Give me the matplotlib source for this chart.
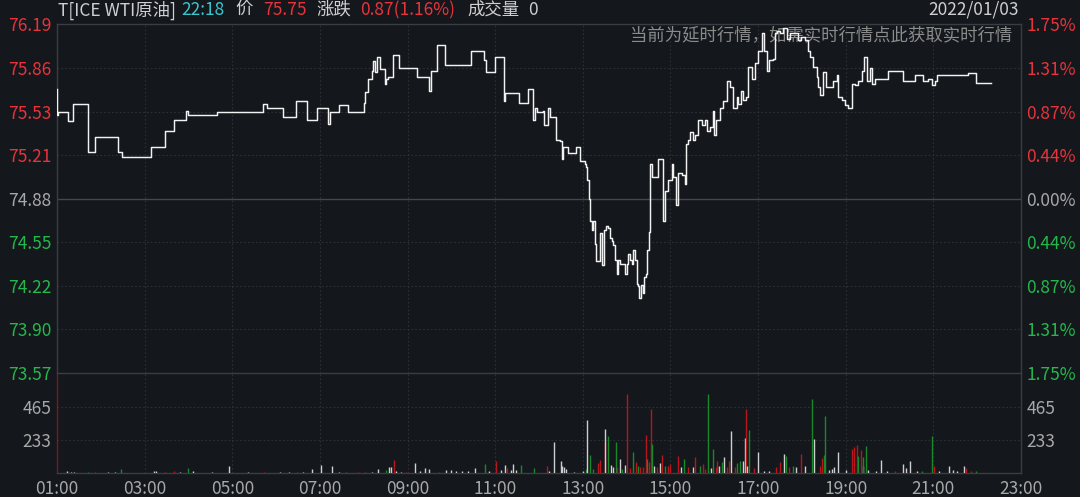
import matplotlib.pyplot as plt
import numpy as np

plt.rcParams['font.family'] = ['Noto Sans CJK SC', 'DejaVu Sans']

BG = '#14171c'
FRAME = '#3a3d43'
GRID = '#2d3036'
RED = '#e8333b'
GREEN = '#24b84c'
GRAY = '#a8a8a8'
LIGHT = '#cfcfcf'
CYAN = '#39c6cf'

# price axis (prev close 74.88)
price_levels = [76.19, 75.86, 75.53, 75.21, 74.88, 74.55, 74.22, 73.90, 73.57]
pct_labels = ['1.75%', '1.31%', '0.87%', '0.44%', '0.00%', '0.44%', '0.87%', '1.31%', '1.75%']
prev_close = 74.88
vol_levels = [233, 465]
time_labels = ['01:00', '03:00', '05:00', '07:00', '09:00', '11:00',
               '13:00', '15:00', '17:00', '19:00', '21:00', '23:00']

# price line, hours since 00:00 / price (step changes)
price_time = [1.00, 1.01, 1.03, 1.25, 1.37, 1.71, 1.87, 2.39, 2.48, 3.15,
              3.46, 3.67, 3.94, 3.99, 4.65, 5.70, 5.79, 6.16, 6.45, 6.71,
              6.93, 7.18, 7.23, 7.44, 7.64, 8.00, 8.03, 8.10, 8.18, 8.22,
              8.26, 8.30, 8.36, 8.49, 8.51, 8.56, 8.67, 8.81, 9.22, 9.50,
              9.53, 9.68, 9.85, 10.44, 10.74, 10.79, 11.00, 11.19, 11.22, 11.55,
              11.76, 11.87, 11.91, 11.95, 12.08, 12.11, 12.21, 12.25, 12.39, 12.48,
              12.52, 12.55, 12.67, 12.84, 12.94, 13.05, 13.08, 13.10, 13.14, 13.16,
              13.20, 13.24, 13.28, 13.30, 13.39, 13.43, 13.49, 13.53, 13.58, 13.62,
              13.66, 13.70, 13.73, 13.77, 13.81, 13.85, 13.96, 14.00, 14.04, 14.08,
              14.12, 14.15, 14.19, 14.23, 14.27, 14.29, 14.32, 14.37, 14.40, 14.44,
              14.47, 14.50, 14.53, 14.59, 14.71, 14.82, 14.87, 14.95, 15.03, 15.06,
              15.13, 15.18, 15.26, 15.33, 15.35, 15.41, 15.45, 15.52, 15.56, 15.63,
              15.71, 15.79, 15.83, 15.90, 15.96, 15.99, 16.05, 16.13, 16.21, 16.28,
              16.36, 16.43, 16.51, 16.55, 16.60, 16.66, 16.72, 16.78, 16.85, 16.93,
              17.00, 17.08, 17.13, 17.20, 17.26, 17.33, 17.39, 17.44, 17.50, 17.57,
              17.65, 17.73, 17.92, 17.99, 18.07, 18.15, 18.18, 18.26, 18.34, 18.37,
              18.41, 18.49, 18.56, 18.71, 18.79, 18.83, 18.91, 18.98, 19.06, 19.14,
              19.21, 19.29, 19.36, 19.42, 19.48, 19.55, 19.61, 19.67, 19.97, 20.31,
              20.58, 20.76, 20.88, 20.98, 21.04, 21.09, 21.80, 21.97, 22.31]
price_val = [75.70, 75.51, 75.53, 75.46, 75.59, 75.23, 75.34, 75.23, 75.19, 75.27,
             75.39, 75.47, 75.54, 75.51, 75.53, 75.59, 75.56, 75.49, 75.61, 75.47,
             75.56, 75.44, 75.53, 75.58, 75.53, 75.60, 75.68, 75.78, 75.84, 75.91,
             75.83, 75.94, 75.85, 75.74, 75.78, 75.79, 75.96, 75.86, 75.79, 75.69,
             75.84, 76.03, 75.88, 75.99, 75.92, 75.83, 75.94, 75.61, 75.67, 75.60,
             75.70, 75.47, 75.56, 75.53, 75.54, 75.43, 75.56, 75.49, 75.32, 75.31,
             75.18, 75.27, 75.22, 75.27, 75.16, 75.14, 75.12, 75.02, 74.88, 74.71,
             74.64, 74.71, 74.54, 74.41, 74.62, 74.38, 74.64, 74.67, 74.66, 74.58,
             74.56, 74.53, 74.42, 74.31, 74.42, 74.39, 74.31, 74.39, 74.46, 74.42,
             74.39, 74.49, 74.42, 74.24, 74.22, 74.13, 74.23, 74.17, 74.29, 74.31,
             74.49, 74.63, 75.14, 75.04, 75.18, 74.71, 74.94, 75.02, 75.14, 75.04,
             74.83, 75.07, 75.06, 74.99, 75.29, 75.32, 75.38, 75.32, 75.36, 75.47,
             75.43, 75.47, 75.39, 75.42, 75.54, 75.36, 75.47, 75.56, 75.61, 75.76,
             75.72, 75.56, 75.64, 75.59, 75.69, 75.62, 75.64, 75.87, 75.78, 75.90,
             75.99, 76.12, 75.99, 75.84, 75.92, 75.93, 76.12, 76.14, 76.12, 76.16,
             76.08, 76.12, 76.07, 76.09, 76.07, 75.99, 75.94, 75.87, 75.79, 75.72,
             75.66, 75.83, 75.72, 75.76, 75.81, 75.64, 75.62, 75.58, 75.56, 75.74,
             75.73, 75.76, 75.84, 75.94, 75.76, 75.86, 75.74, 75.78, 75.84, 75.76,
             75.81, 75.76, 75.78, 75.73, 75.76, 75.81, 75.82, 75.75, 75.75]

# volume bars: minute, size, direction (1 up, -1 down, 0 flat)
vol_time = ['01:14', '01:19', '01:23', '01:42', '01:52', '02:10', '02:20', '02:28', '03:13', '03:16',
            '03:28', '03:40', '03:49', '04:00', '04:06', '04:32', '04:56', '05:22', '05:43', '06:06',
            '06:18', '06:28', '06:37', '06:49', '07:02', '07:17', '07:26', '07:36', '07:52', '08:02',
            '08:11', '08:20', '08:30', '08:34', '08:37', '08:41', '08:44', '08:51', '08:58', '09:10',
            '09:17', '09:24', '09:30', '09:43', '09:52', '09:59', '10:07', '10:14', '10:23', '10:32',
            '10:46', '10:51', '11:01', '11:08', '11:14', '11:16', '11:22', '11:25', '11:29', '11:35',
            '11:53', '12:11', '12:14', '12:21', '12:30', '12:32', '12:34', '12:37', '12:48', '13:00',
            '13:04', '13:06', '13:10', '13:14', '13:21', '13:24', '13:30', '13:31', '13:35', '13:38',
            '13:41', '13:45', '13:47', '13:51', '13:54', '13:58', '14:01', '14:05', '14:09', '14:13',
            '14:16', '14:18', '14:23', '14:26', '14:28', '14:31', '14:33', '14:35', '14:38', '14:41',
            '14:46', '14:49', '14:53', '14:57', '15:00', '15:11', '15:14', '15:19', '15:24', '15:31',
            '15:34', '15:40', '15:44', '15:47', '15:51', '15:55', '15:58', '16:02', '16:04', '16:07',
            '16:11', '16:13', '16:17', '16:20', '16:23', '16:28', '16:31', '16:35', '16:39', '16:42',
            '16:43', '16:45', '16:48', '16:54', '17:00', '17:08', '17:15', '17:25', '17:30', '17:36',
            '17:38', '17:42', '17:48', '17:52', '17:59', '18:04', '18:14', '18:17', '18:25', '18:28',
            '18:30', '18:31', '18:37', '18:41', '18:44', '18:50', '19:01', '19:08', '19:11', '19:15',
            '19:17', '19:21', '19:23', '19:24', '19:28', '19:31', '19:41', '19:48', '19:57', '20:07',
            '20:19', '20:23', '20:28', '20:37', '20:45', '20:58', '21:01', '21:08', '21:22', '21:27',
            '21:32', '21:42', '21:45', '21:51', '21:59']
vol_size = [16, 7, 9, 9, 9, 7, 9, 26, 16, 12,
            7, 12, 9, 38, 16, 7, 52, 7, 5, 7,
            9, 7, 9, 30, 59, 47, 9, 7, 7, 7,
            7, 28, 21, 45, 45, 92, 16, 9, 9, 68,
            16, 35, 26, 7, 21, 21, 16, 12, 12, 38,
            61, 16, 87, 21, 59, 35, 21, 63, 21, 56,
            35, 49, 16, 221, 85, 47, 40, 28, 9, 16,
            28, 376, 129, 28, 68, 92, 221, 310, 263, 56,
            45, 221, 40, 99, 28, 56, 557, 35, 150, 75,
            52, 45, 45, 270, 96, 75, 451, 204, 52, 45,
            68, 129, 52, 52, 63, 122, 40, 99, 40, 40,
            110, 52, 63, 28, 557, 35, 169, 40, 87, 52,
            75, 115, 45, 87, 298, 40, 68, 87, 87, 247,
            451, 52, 303, 35, 146, 16, 16, 45, 75, 134,
            122, 40, 52, 40, 134, 52, 522, 240, 52, 103,
            129, 404, 21, 28, 45, 146, 21, 169, 181, 197,
            122, 162, 52, 110, 190, 21, 16, 92, 12, 12,
            63, 35, 87, 12, 16, 263, 52, 12, 52, 21,
            16, 52, 35, 12, 16]
vol_dir = [0, 0, 0, -1, 1, 0, 0, -1, 0, 0,
           1, 1, 0, -1, 0, 0, 0, 0, 1, 0,
           0, 1, 0, 0, 0, 0, 0, -1, 1, 1,
           0, 0, -1, 0, 0, 1, 0, 0, 1, 0,
           0, 0, 0, 1, 0, 0, 0, 0, 0, 0,
           -1, 0, 1, 0, 0, 1, 0, 0, 0, -1,
           -1, 1, 0, 0, 0, 0, 0, 0, 0, 0,
           -1, 0, -1, -1, 1, 1, 1, 0, -1, 0,
           0, -1, 1, 0, -1, 0, 1, 1, -1, 1,
           -1, 1, 1, 1, -1, 1, 1, -1, 0, 1,
           0, 1, -1, 1, 1, 1, 0, -1, 1, 0,
           1, -1, 1, 1, -1, 0, -1, 1, 1, 0,
           -1, 0, 1, 1, 0, 1, -1, -1, 0, 0,
           1, 0, -1, 1, 0, 0, 0, 1, 1, 0,
           -1, 1, -1, 0, 1, 0, -1, 0, 1, 1,
           -1, -1, 0, 0, 0, 0, 0, 1, 1, 1,
           -1, 1, 0, -1, -1, 0, 0, 0, 0, 1,
           0, 0, 0, 0, -1, -1, 1, 0, 0, 0,
           0, 0, 1, 1, -1]
assert len(vol_time) == len(vol_size) == len(vol_dir)

W, H = 1080, 497


def box(l, t, r, b):
    return [l / W, 1 - b / H, (r - l) / W, (b - t) / H]


def hours(s):
    h, m = s.split(':')
    return int(h) + int(m) / 60


fig = plt.figure(figsize=(W / 100, H / 100), dpi=100, facecolor=BG)
ax = fig.add_axes(box(57, 24, 1021, 373))
axv = fig.add_axes(box(57, 373, 1021, 473), sharex=ax)

for a in (ax, axv):
    a.set_facecolor(BG)
    for s in a.spines.values():
        s.set_color(FRAME)
        s.set_linewidth(1)
    a.tick_params(length=0, labelsize=12.5, pad=4)
    for t in range(3, 23, 2):
        a.axvline(t, color=GRID, lw=0.8, ls=(0, (1.5, 2)), zorder=1)
axv.spines['left'].set_color('#7a1c1c')
ax.spines['bottom'].set_visible(False)

ax.set_xlim(1, 23)
ax.set_ylim(price_levels[-1], price_levels[0])
axv.set_ylim(0, 705)

# price grid
for lv in price_levels[1:-1]:
    if lv == prev_close:
        ax.axhline(lv, color='#45474c', lw=1, zorder=1)
    else:
        ax.axhline(lv, color=GRID, lw=0.8, ls=(0, (1.5, 2)), zorder=1)
for lv in vol_levels:
    axv.axhline(lv, color=GRID, lw=0.8, ls=(0, (1.5, 2)), zorder=1)


def lvl_color(v):
    if v > prev_close + 1e-6:
        return RED
    if v < prev_close - 1e-6:
        return GREEN
    return GRAY


ax.set_yticks(price_levels)
ax.set_yticklabels(['%.2f' % v for v in price_levels])
for lab, v in zip(ax.get_yticklabels(), price_levels):
    lab.set_color(lvl_color(v))
ax.tick_params(labelbottom=False)

axr = ax.twinx()
axr.set_ylim(ax.get_ylim())
axr.set_yticks(price_levels)
axr.set_yticklabels(pct_labels)
axr.tick_params(length=0, labelsize=12.5, pad=4)
for lab, v in zip(axr.get_yticklabels(), price_levels):
    lab.set_color(lvl_color(v))
for s in axr.spines.values():
    s.set_visible(False)

axv.set_yticks(vol_levels)
axv.set_yticklabels([str(v) for v in vol_levels], color=GRAY)
axvr = axv.twinx()
axvr.set_ylim(axv.get_ylim())
axvr.set_yticks(vol_levels)
axvr.set_yticklabels([str(v) for v in vol_levels], color=GRAY)
axvr.tick_params(length=0, labelsize=12.5, pad=4)
for s in axvr.spines.values():
    s.set_visible(False)

axv.set_xticks([hours(s) for s in time_labels])
axv.set_xticklabels(time_labels, color=GRAY)
axv.tick_params(axis='x', pad=5)

# price line
ax.step(price_time, price_val, where='post', color='#f2f2f2', lw=1.05, zorder=5)

# volume
vcolors = {1: '#b8161d', -1: '#17892a', 0: '#cfcfcf'}
vt = np.array([hours(s) for s in vol_time])
axv.vlines(vt, 0, vol_size, colors=[vcolors[d] for d in vol_dir], lw=1.0, zorder=3)

# notice overlay (under the line)
ax.text(0.9907, 0.9685, '当前为延时行情，如需实时行情点此获取实时行情', transform=ax.transAxes,
        ha='right', va='center', color='#8b8b8b', fontsize=12.5, zorder=2)

# header
header = [(58, 'T[ICE WTI原油]', LIGHT), (181, '22:18', CYAN), (235, '价', LIGHT),
          (263, '75.75', RED), (316, '涨跌', LIGHT), (360, '0.87(1.16%)', RED),
          (467, '成交量', LIGHT), (528, '0', LIGHT)]
for x, s, c in header:
    fig.text(x / W, 1 - 10 / H, s, color=c, fontsize=12.5, ha='left', va='center')
fig.text(1019 / W, 1 - 10 / H, '2022/01/03', color=LIGHT, fontsize=12.5, ha='right', va='center')

fig.savefig('out.png', dpi=100, facecolor=BG)
